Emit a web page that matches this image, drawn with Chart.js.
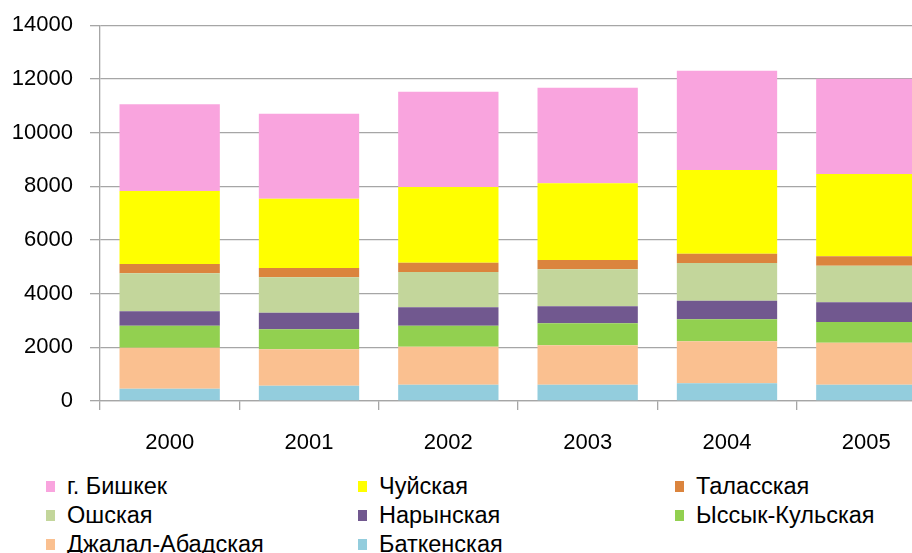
<!DOCTYPE html>
<html>
<head>
<meta charset="utf-8">
<script src="https://cdn.jsdelivr.net/npm/chart.js@4"></script>
<style>
  html, body { margin: 0; padding: 0; background: #fff; overflow: hidden; }
  #wrap { position: relative; width: 912px; height: 553px; overflow: hidden; }
  #box { position: absolute; left: 0; top: -5px; width: 940px; height: 470px; }
  #legend {
    position: absolute; left: 46px; top: 474px;
    display: grid; grid-template-columns: 312px 317px 230px; row-gap: 4px;
    font-family: "Liberation Sans", Arial, sans-serif; font-size: 23.5px; color: #000;
  }
  .item { display: flex; align-items: center; height: 25px; white-space: nowrap; }
  .sw { width: 9px; height: 11px; margin-right: 12px; }
</style>
</head>
<body>
<div id="wrap">
  <div id="box"><canvas id="myChart"></canvas></div>
  <div id="legend"></div>
</div>
<script>
const years = ['2000', '2001', '2002', '2003', '2004', '2005'];

// bottom to top in the stack
const batken     = [460, 571, 608, 608, 658, 608];
const jalalAbad  = [1527, 1354, 1415, 1466, 1564, 1565];
const issykKul   = [819, 744, 783, 819, 820, 770];
const naryn      = [534, 621, 684, 634, 695, 733];
const osh        = [1416, 1317, 1315, 1377, 1403, 1365];
const talas      = [347, 347, 347, 348, 348, 348];
const chuy       = [2719, 2583, 2820, 2856, 3117, 3067];
const bishkek    = [3230, 3166, 3550, 3563, 3700, 3551];

const yTicks = [0, 2000, 4000, 6000, 8000, 10000, 12000, 14000];

const grey = '#a6a6a6';
const font = { family: '"Liberation Sans", Arial, sans-serif', size: 22 };

const ctx = document.getElementById("myChart");
const myChart = new Chart(ctx, {
  type: 'bar',
  data: {
    labels: years,
    datasets: [
      { label: 'Баткенская', data: batken, backgroundColor: '#93cddd' },
      { label: 'Джалал-Абадская', data: jalalAbad, backgroundColor: '#fac090' },
      { label: 'Ыссык-Кульская', data: issykKul, backgroundColor: '#92d050' },
      { label: 'Нарынская', data: naryn, backgroundColor: '#71588f' },
      { label: 'Ошская', data: osh, backgroundColor: '#c3d69b' },
      { label: 'Таласская', data: talas, backgroundColor: '#db843d' },
      { label: 'Чуйская', data: chuy, backgroundColor: '#ffff00' },
      { label: 'г. Бишкек', data: bishkek, backgroundColor: '#f9a4de' },
    ],
  },
  options: {
    responsive: true,
    maintainAspectRatio: false,
    animation: false,
    layout: { padding: { top: 20, right: 4, left: 0, bottom: 0 } },
    datasets: { bar: { categoryPercentage: 1, barPercentage: 0.72 } },
    plugins: { legend: { display: false }, tooltip: { enabled: false } },
    scales: {
      x: {
        stacked: true,
        offset: true,
        grid: { offset: true, drawOnChartArea: false, color: grey, tickLength: 9, lineWidth: 1.3 },
        border: { color: grey, width: 1.3 },
        ticks: { color: '#000', font: font, padding: 20 },
        afterFit: (s) => { s.height = 64; },
      },
      y: {
        stacked: true,
        min: 0,
        max: 14000,
        afterBuildTicks: (s) => { s.ticks = yTicks.map(v => ({ value: v })); },
        grid: { color: grey, tickLength: 10, lineWidth: 1.3 },
        border: { color: grey, width: 1.3 },
        ticks: { color: '#000', font: font, padding: 17, callback: (v) => String(v) },
        afterFit: (s) => { s.width = 100; },
      },
    },
  },
});

// legend in three columns, top of the stack first
const legend = document.getElementById('legend');
myChart.data.datasets.slice().reverse().forEach(ds => {
  const item = document.createElement('div');
  item.className = 'item';
  const sw = document.createElement('span');
  sw.className = 'sw';
  sw.style.background = ds.backgroundColor;
  item.appendChild(sw);
  item.appendChild(document.createTextNode(ds.label));
  legend.appendChild(item);
});
</script>
</body>
</html>
